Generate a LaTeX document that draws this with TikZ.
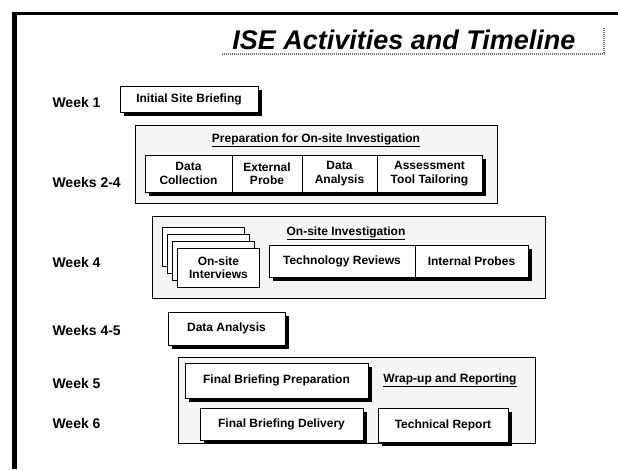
\documentclass[tikz,border=0pt]{standalone}
\usepackage{fontspec}
\setmainfont{Liberation Sans}
\usetikzlibrary{shadows}
\begin{document}
\begin{tikzpicture}[x=1pt,y=-1pt,
  task/.style={draw, line width=1pt, fill=white, align=center, inner sep=0pt,
    font=\bfseries\fontsize{12}{13.5}\selectfont,
    drop shadow={shadow xshift=3.5pt, shadow yshift=-3.5pt, opacity=1, fill=black}},
  card/.style={draw, line width=0.9pt, fill=white, align=center, inner sep=0pt,
    minimum width=82pt, minimum height=39pt, anchor=north west,
    font=\bfseries\fontsize{12}{13.5}\selectfont},
  phase/.style={draw, line width=1pt, fill=black!4},
  heading/.style={font=\bfseries\fontsize{12}{13.5}\selectfont},
  week/.style={anchor=west, font=\bfseries\fontsize{14}{16}\selectfont}]
\useasboundingbox (0,0) rectangle (618,469);

% frame
\draw[line width=3pt] (12,13) -- (618,13);
\draw[line width=5pt] (14.5,11.5) -- (14.5,469);

% title with its grainy rule
\node[anchor=east, font=\bfseries\itshape\fontsize{27}{31}\selectfont] (title) at (579,40) {ISE Activities and Timeline};
\draw[black!55, line width=2.5pt, dash pattern=on 1.2pt off 0.8pt] (222,54) -- (605,54);
\draw[black!55, line width=2.5pt, dash pattern=on 1.2pt off 0.8pt] (604,28) -- (604,54);

% week labels
\node[week] (w1)  at (49,102) {Week 1};
\node[week] (w24) at (49,182) {Weeks 2-4};
\node[week] (w4)  at (49,262) {Week 4};
\node[week] (w45) at (49,330) {Weeks 4-5};
\node[week] (w5)  at (49,383) {Week 5};
\node[week] (w6)  at (49,423) {Week 6};

% week 1
\node[task, minimum width=138pt, minimum height=26pt] (isb) at (189,99) {Initial Site Briefing};

% weeks 2-4
\draw[phase] (135,125) rectangle (497,203);
\node[heading] (prep) at (316,140) {\underline{Preparation for On-site Investigation}};
\node[task, minimum width=87pt, minimum height=37pt] (dc) at (188.5,173.5) {Data\\Collection};
\node[task, minimum width=70pt, minimum height=37pt] (ep) at (267,173.5) {External\\Probe};
\node[task, minimum width=75pt, minimum height=37pt] (da) at (339.5,173.5) {Data\\Analysis};
\node[task, minimum width=105pt, minimum height=37pt] (att) at (429.5,173.5) {Assessment\\Tool Tailoring};

% week 4
\draw[phase] (152,216) rectangle (545,298);
\node[heading] (osi) at (346,233) {\underline{On-site Investigation}};
\node[card] (c1) at (162,227) {};
\node[card] (c2) at (167,234) {};
\node[card] (c3) at (172,241) {};
\node[card] (osint) at (177,248) {On-site\\Interviews};
\node[task, minimum width=146pt, minimum height=32pt] (tr) at (342,261) {Technology Reviews};
\node[task, minimum width=113pt, minimum height=32pt] (ip) at (471.5,261) {Internal Probes};

% weeks 4-5
\node[task, minimum width=117pt, minimum height=33pt] (da2) at (226.5,328.5) {Data Analysis};

% weeks 5-6
\draw[phase] (178,357) rectangle (535,443);
\node[task, minimum width=183pt, minimum height=35pt] (fbp) at (276.5,380.5) {Final Briefing Preparation};
\node[heading] (wrap) at (450,380) {\underline{Wrap-up and Reporting}};
\node[task, minimum width=163pt, minimum height=32pt] (fbd) at (281.5,424) {Final Briefing Delivery};
\node[task, minimum width=130pt, minimum height=34pt] (rep) at (443,425) {Technical Report};
\end{tikzpicture}
\end{document}
